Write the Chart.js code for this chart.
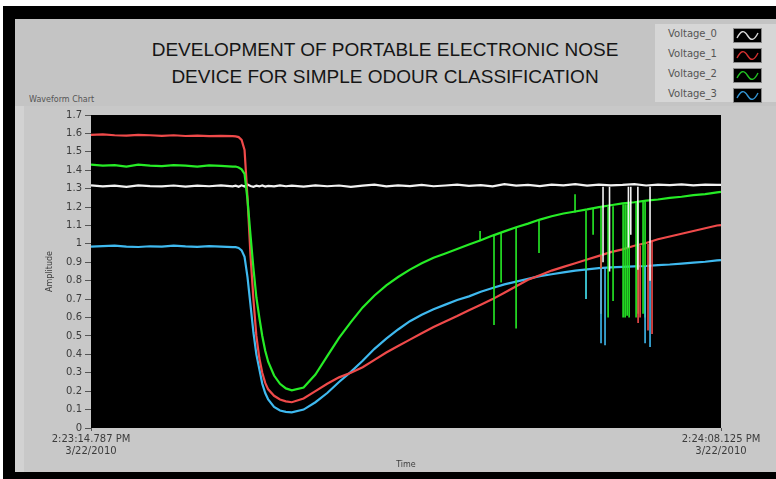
<!DOCTYPE html>
<html>
<head>
<meta charset="utf-8">
<title>Waveform Chart</title>
<script src="https://cdn.jsdelivr.net/npm/chart.js@4.4.0/dist/chart.umd.min.js"></script>
<style>
    html, body { margin: 0; padding: 0; background: #fff; }
    #stage { position: relative; width: 776px; height: 479px; overflow: hidden; font-family: "DejaVu Sans", sans-serif; }
    #frame { position: absolute; left: 3px; top: 6px; right: 0; bottom: 0; background: #000; }
    #panel { position: absolute; left: 15px; top: 19px; right: 0; bottom: 7px; background: #c4c4c4; }
    #control { position: absolute; left: 15px; top: 106px; right: 0; bottom: 7px; background: #c8c8c8; }
    #strip { position: absolute; left: 15px; top: 106px; width: 9px; bottom: 7px; background: #d2d2d2; }
    #title { position: absolute; left: 0; width: 770px; top: 36px; text-align: center; font-family: "Liberation Sans", Arial, sans-serif; font-size: 19px; line-height: 27px; color: #151515; }
    #chartLabel { position: absolute; left: 29px; top: 95px; font-size: 8px; color: #555; }
    #legend { position: absolute; left: 655px; top: 24px; width: 121px; height: 78px; background: #d6d6d6; }
    .legend-item { position: absolute; left: 0; width: 121px; height: 20px; }
    .legend-item span { position: absolute; left: 13px; top: 3px; font-size: 10px; color: #555; }
    .legend-item svg { position: absolute; left: 78px; top: 3px; }
    canvas { position: absolute; left: 0; top: 0; }
</style>
</head>
<body>
<div id="stage">
    <div id="frame"></div>
    <div id="panel"></div>
    <div id="control"></div>
    <div id="strip"></div>
    <div id="title">DEVELOPMENT OF PORTABLE ELECTRONIC NOSE<br>DEVICE FOR SIMPLE ODOUR CLASSIFICATION</div>
    <div id="chartLabel">Waveform Chart</div>
    <div id="legend"></div>
    <canvas id="waveformChart" width="776" height="479"></canvas>
</div>
<script>
// sample times in seconds from 2:23:14.787 PM
const sampleTimes = [0,1,2,3,4,5,6,7,8,9,10,11,12,
    12.25,12.5,12.75,13,13.25,13.5,13.75,14,14.25,14.5,14.75,15,
    15.5,16,16.5,
    17,18,19,20,21,22,23,24,25,26,27,28,29,30,31,32,33,34,35,36,37,38,39,40,41,42,43,44,45,46,47,48,49,50,51,52,53,
    53.338];

const voltage0 = [1.318,1.312,1.316,1.310,1.318,1.314,1.312,1.317,1.311,1.316,1.313,1.318,1.312,
    1.316,1.310,1.318,1.312,1.322,1.314,1.310,1.316,1.312,1.317,1.311,1.315,
    1.312,1.318,1.313,
    1.316,1.311,1.318,1.313,1.317,1.310,1.316,1.322,1.312,1.318,1.314,1.320,1.313,1.317,1.322,1.315,1.319,1.312,1.324,1.316,1.320,1.314,1.322,1.318,1.325,1.316,1.322,1.318,1.320,1.324,1.317,1.322,1.319,1.323,1.318,1.322,1.320,
    1.320];

const voltage1 = [1.592,1.595,1.590,1.588,1.592,1.590,1.587,1.590,1.586,1.588,1.585,1.587,1.585,
    1.584,1.580,1.565,1.510,1.250,0.940,0.700,0.500,0.380,0.300,0.245,0.210,
    0.175,0.155,0.145,
    0.140,0.160,0.200,0.240,0.275,0.300,0.330,0.370,0.410,0.445,0.480,0.515,0.548,0.578,0.608,0.640,0.670,0.700,0.735,0.770,0.805,0.830,0.855,0.875,0.895,0.915,0.935,0.955,0.970,0.990,1.005,1.025,1.040,1.055,1.070,1.085,1.100,
    1.102];

const voltage2 = [1.430,1.425,1.428,1.420,1.430,1.425,1.422,1.428,1.425,1.420,1.426,1.424,1.420,
    1.420,1.415,1.405,1.380,1.240,1.050,0.870,0.710,0.600,0.500,0.420,0.360,
    0.285,0.240,0.215,
    0.205,0.220,0.290,0.390,0.490,0.575,0.655,0.720,0.775,0.820,0.860,0.895,0.925,0.948,0.972,0.997,1.020,1.045,1.068,1.090,1.110,1.132,1.150,1.165,1.176,1.187,1.200,1.210,1.220,1.226,1.235,1.241,1.250,1.256,1.265,1.270,1.280,
    1.282];

const voltage3 = [0.985,0.988,0.990,0.985,0.983,0.987,0.985,0.990,0.986,0.984,0.988,0.985,0.982,
    0.982,0.978,0.965,0.930,0.820,0.670,0.520,0.400,0.320,0.240,0.190,0.155,
    0.115,0.095,0.088,
    0.085,0.100,0.140,0.190,0.250,0.305,0.365,0.430,0.485,0.535,0.580,0.615,0.645,0.670,0.695,0.715,0.740,0.760,0.780,0.795,0.810,0.825,0.835,0.845,0.855,0.862,0.868,0.872,0.875,0.878,0.880,0.885,0.888,0.893,0.898,0.903,0.910,
    0.912];

// glitches: [time, from, to]
const spikes0 = [[43.35,1.31,0.90],[43.9,1.31,0.85],[45.5,1.31,0.98],[45.7,1.31,1.05],[46.3,1.31,0.86],[47.33,1.31,0.80]];
const spikes1 = [[43.18,0.94,0.62],[46.32,0.985,0.57],[46.49,0.99,0.60],[47.16,1.0,0.53],[47.5,1.01,0.51]];
const spikes2 = [[32.94,1.02,1.07],[34.12,1.05,0.56],[34.72,1.06,0.79],[35.99,1.09,0.54],[37.93,1.13,0.95],
    [40.98,1.17,1.27],[41.91,1.18,0.70],[42.51,1.19,1.05],[43.18,1.20,0.62],[43.78,1.20,0.60],[44.2,1.205,0.69],
    [45.05,1.215,0.60],[45.22,1.215,0.60],[45.39,1.215,0.61],[45.56,1.22,0.60],[46.15,1.225,0.60],[46.32,1.225,0.62],
    [46.74,1.23,0.62],[46.91,1.23,0.60]];
const spikes3 = [[41.91,0.862,0.70],[43.18,0.868,0.46],[43.52,0.87,0.45],[46.91,0.879,0.46],[47.33,0.88,0.44]];

const seriesNames = ['Voltage_0', 'Voltage_1', 'Voltage_2', 'Voltage_3'];
const amplitudeTicks = [0,0.1,0.2,0.3,0.4,0.5,0.6,0.7,0.8,0.9,1,1.1,1.2,1.3,1.4,1.5,1.6,1.7];
const amplitudeLabels = ['0','0.1','0.2','0.3','0.4','0.5','0.6','0.7','0.8','0.9','1','1.1','1.2','1.3','1.4','1.5','1.6','1.7'];
const timeTicks = [0, 53.338];
const timeLabels = [['2:23:14.787 PM', '3/22/2010'], ['2:24:08.125 PM', '3/22/2010']];

const lineColors = ['#f2f2f2', '#ef4a4a', '#26ec26', '#3fb9ef'];
const swatchColors = ['#d8d8d8', '#d23030', '#22c022', '#3494d4'];

// Build legend
const legend = document.getElementById('legend');
seriesNames.forEach((name, i) => {
    const item = document.createElement('div');
    item.className = 'legend-item';
    item.style.top = (1 + i * 20) + 'px';
    item.innerHTML = `
        <span>${name}</span>
        <svg width="29" height="15">
            <rect x="0.5" y="0.5" width="28" height="14" fill="#000" stroke="#8a8a8a"/>
            <path d="M4 10 C 8 2, 11 2, 14.5 7.5 S 21 13, 25 5" fill="none" stroke="${swatchColors[i]}" stroke-width="1.4"/>
        </svg>`;
    legend.appendChild(item);
});

function toPoints(values) {
    return values.map((v, i) => ({ x: sampleTimes[i], y: v }));
}

function spikePoints(list) {
    const pts = [];
    list.forEach(s => {
        pts.push({ x: s[0], y: s[1] }, { x: s[0], y: s[2] }, { x: s[0], y: null });
    });
    return pts;
}

// Black plot area like the LabVIEW chart
const plotBackground = {
    id: 'plotBackground',
    beforeDraw(chart) {
        const { ctx, chartArea: a } = chart;
        ctx.save();
        ctx.fillStyle = '#000';
        ctx.fillRect(a.left, a.top, a.right - a.left, a.bottom - a.top);
        ctx.restore();
    }
};

const series = [voltage0, voltage1, voltage2, voltage3];
const spikes = [spikes0, spikes1, spikes2, spikes3];
const lineOrder = [10, 8, 7, 9];
const spikeOrder = [3, 5, 6, 4];

const datasets = [];
series.forEach((values, i) => {
    datasets.push({
        label: seriesNames[i],
        data: toPoints(values),
        borderColor: lineColors[i],
        borderWidth: 2.2,
        order: lineOrder[i]
    });
});
spikes.forEach((list, i) => {
    datasets.push({
        label: seriesNames[i] + ' glitch',
        data: spikePoints(list),
        borderColor: lineColors[i],
        borderWidth: 1.6,
        order: spikeOrder[i]
    });
});

const tickFont = { family: 'DejaVu Sans', size: 10 };
const titleFont = { family: 'DejaVu Sans', size: 8 };

new Chart(document.getElementById('waveformChart'), {
    type: 'line',
    data: { datasets },
    options: {
        responsive: false,
        animation: false,
        devicePixelRatio: 1,
        layout: { padding: { left: 40, top: 115, right: 55, bottom: 7 } },
        elements: {
            point: { radius: 0 },
            line: { tension: 0 }
        },
        plugins: {
            legend: { display: false },
            tooltip: { enabled: false }
        },
        scales: {
            x: {
                type: 'linear',
                min: 0,
                max: 53.338,
                afterBuildTicks: scale => { scale.ticks = timeTicks.map(v => ({ value: v })); },
                afterFit: scale => { scale.height = 44; },
                ticks: {
                    autoSkip: false,
                    maxRotation: 0,
                    padding: 2,
                    color: '#3c3c3c',
                    font: tickFont,
                    callback: (value, index) => timeLabels[index]
                },
                grid: { drawOnChartArea: false, tickLength: 3, color: '#555' },
                border: { display: false },
                title: { display: true, text: 'Time', color: '#3c3c3c', font: titleFont, padding: { top: 0, bottom: 2 } }
            },
            y: {
                min: 0,
                max: 1.7,
                afterBuildTicks: scale => { scale.ticks = amplitudeTicks.map(v => ({ value: v })); },
                afterFit: scale => { scale.width = 51; },
                ticks: {
                    padding: 3,
                    color: '#3c3c3c',
                    font: tickFont,
                    callback: (value, index) => amplitudeLabels[index]
                },
                grid: { drawOnChartArea: false, tickLength: 6, color: '#555' },
                border: { display: false },
                title: { display: true, text: 'Amplitude', color: '#3c3c3c', font: titleFont, padding: { top: 5, bottom: 0 } }
            }
        }
    },
    plugins: [plotBackground]
});
</script>
</body>
</html>
